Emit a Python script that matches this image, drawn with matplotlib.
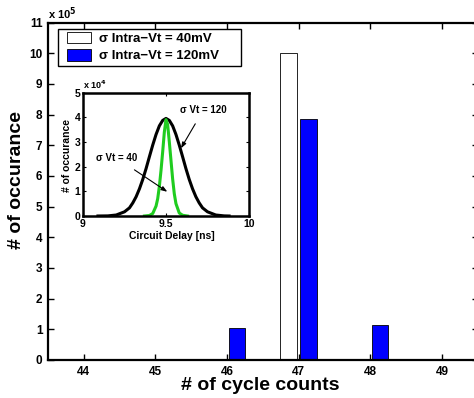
import matplotlib
matplotlib.use("Agg")
import matplotlib.pyplot as plt
from matplotlib.patches import Rectangle
from matplotlib.ticker import FuncFormatter

# main histogram: cycle count -> number of occurrences
cycles = [46, 47, 48]
count_40mv = [0, 1.0e6, 0]
count_120mv = [1.03e5, 7.84e5, 1.14e5]
xticks_main = [44, 45, 46, 47, 48, 49]
yticks_main = list(range(0, 12))

# inset: circuit delay distributions (values in units of 1e4)
delay_120 = [9.09, 9.15, 9.20, 9.25, 9.28, 9.30, 9.32, 9.34, 9.36, 9.38, 9.40, 9.42,
             9.44, 9.46, 9.48, 9.50, 9.52, 9.54, 9.56, 9.58, 9.60, 9.62, 9.64, 9.66,
             9.68, 9.70, 9.72, 9.75, 9.80, 9.85, 9.88]
occ_120 = [0.0, 0.005, 0.04, 0.17, 0.33, 0.53, 0.78, 1.10, 1.48, 1.92, 2.40, 2.87,
           3.30, 3.65, 3.87, 3.95, 3.87, 3.65, 3.30, 2.87, 2.40, 1.92, 1.48, 1.10,
           0.78, 0.53, 0.33, 0.17, 0.04, 0.005, 0.0]
delay_40 = [9.37, 9.40, 9.42, 9.44, 9.45, 9.46, 9.47, 9.48, 9.49, 9.50, 9.51, 9.52,
            9.53, 9.54, 9.55, 9.56, 9.58, 9.60, 9.63]
occ_40 = [0.0, 0.02, 0.10, 0.40, 0.70, 1.20, 1.85, 2.60, 3.40, 3.90, 3.70, 3.00,
          2.25, 1.50, 0.90, 0.50, 0.12, 0.03, 0.0]

bold = dict(fontweight='bold', family='Liberation Sans')
plt.rcParams['font.family'] = 'Liberation Sans'
plt.rcParams['font.weight'] = 'bold'

fig = plt.figure(figsize=(4.74, 3.98), dpi=100)
ax = fig.add_axes([48/474, 38/398, 430/474, 337.5/398])

w = 0.23
ax.bar([c - 0.145 for c in cycles], count_40mv, width=w, color='white',
       edgecolor='black', linewidth=0.6, label='σ Intra−Vt = 40mV')
ax.bar([c + 0.135 for c in cycles], count_120mv, width=w, color='blue',
       edgecolor='black', linewidth=0.6, label='σ Intra−Vt = 120mV')

ax.set_xlim(43.5, 49.5)
ax.set_ylim(0, 11e5)
ax.set_xticks(xticks_main)
ax.set_yticks([v * 1e5 for v in yticks_main])
ax.yaxis.set_major_formatter(FuncFormatter(lambda v, p: '%d' % round(v / 1e5)))
ax.tick_params(direction='in', top=True, right=True, length=4, width=1,
               labelsize=8.5, pad=4)
for s in ax.spines.values():
    s.set_linewidth(1.6)

# legend frame drawn by hand (MATLAB-style loose right padding)
ax.add_patch(Rectangle((10/430, (360-66)/337.5), 183/430, 37/337.5,
                       transform=ax.transAxes, facecolor='white', edgecolor='black',
                       linewidth=1.0, zorder=4))
leg = ax.legend(loc='upper left', bbox_to_anchor=(19/430, (360-32)/337.5),
                borderaxespad=0, frameon=False, fontsize=9.5, handlelength=1.85,
                handleheight=0.95, handletextpad=0.6, labelspacing=0.3, borderpad=0)
leg.set_zorder(5)

fig.text(48/474, 1 - 14/398, 'x 10$^5$', fontsize=8, ha='left', va='center', **bold)
fig.text(260/474, 1 - 385/398, '# of cycle counts', fontsize=14, ha='center',
         va='center', **bold)
fig.text(17/474, 1 - 180/398, '# of occurance', fontsize=14, ha='center',
         va='center', rotation=90, **bold)

# inset
ins = fig.add_axes([83/474, 182/398, 166/474, 123.5/398])
ins.plot(delay_120, occ_120, color='black', lw=2.2)
ins.plot(delay_40, occ_40, color='#1fcc1f', lw=2.2)
ins.set_xlim(9, 10)
ins.set_ylim(0, 5)
ins.set_xticks([9, 9.5, 10])
ins.set_xticklabels(['9', '9.5', '10'])
ins.set_yticks([0, 1, 2, 3, 4, 5])
ins.tick_params(direction='in', top=True, right=True, length=2, width=0.8,
                labelsize=7.5, pad=2)
for s in ins.spines.values():
    s.set_linewidth(1.8)

arrow = dict(arrowstyle='-|>,head_length=0.5,head_width=0.18', color='black', lw=0.8)
ins.annotate('σ Vt = 120', xy=(9.59, 2.74), xytext=(9.725, 4.29), fontsize=7,
             ha='center', va='center', arrowprops=dict(arrow, shrinkA=5, shrinkB=0), **bold)
ins.annotate('σ Vt = 40', xy=(9.508, 0.98), xytext=(9.205, 2.34), fontsize=7,
             ha='center', va='center', arrowprops=dict(arrow, shrinkA=5, shrinkB=0), **bold)

fig.text(83/474, 1 - 85/398, 'x 10$^4$', fontsize=6.5, ha='left', va='center', **bold)
fig.text(172/474, 1 - 236/398, 'Circuit Delay [ns]', fontsize=7.5, ha='center',
         va='center', **bold)
fig.text(67.5/474, 1 - 156/398, '# of occurance', fontsize=7.5, ha='center',
         va='center', rotation=90, **bold)

fig.savefig('out.png', dpi=100)
